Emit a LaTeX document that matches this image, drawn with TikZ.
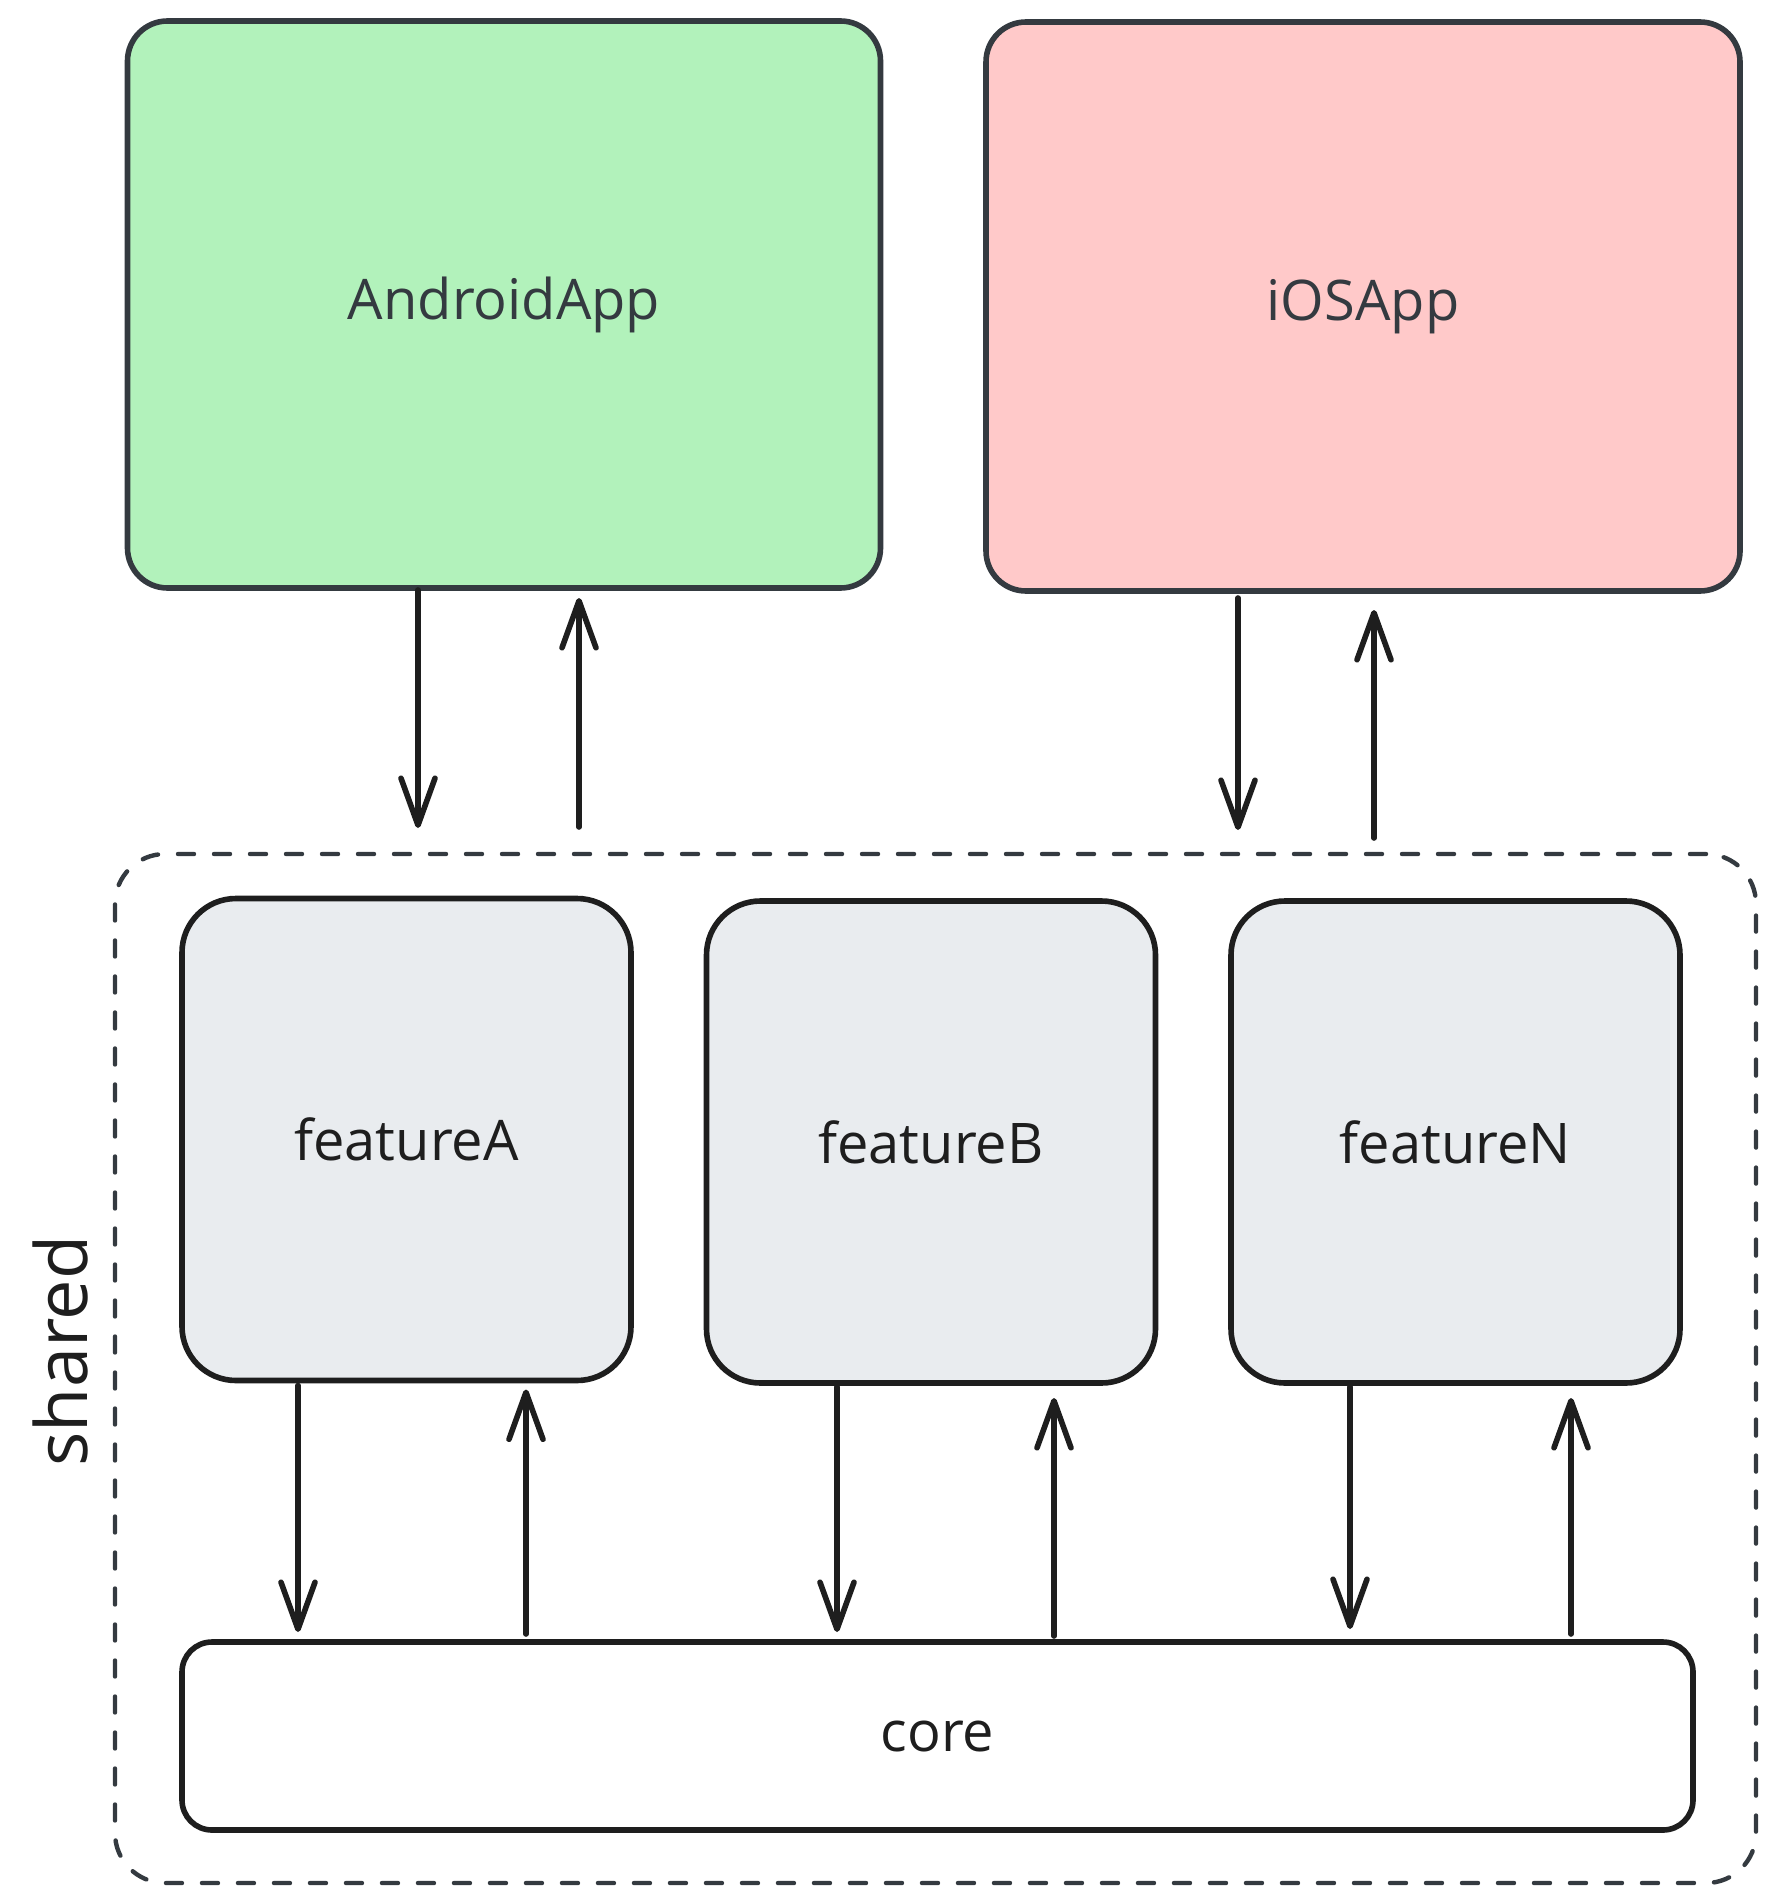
\documentclass[tikz,border=0pt]{standalone}
\usepackage{fontspec}
\setmainfont{Open Sans}
\usetikzlibrary{arrows.meta}
\definecolor{strokeA}{HTML}{343A40}
\definecolor{strokeB}{HTML}{1E1E1E}
\definecolor{greenF}{HTML}{B2F2BB}
\definecolor{pinkF}{HTML}{FFC9C9}
\definecolor{grayF}{HTML}{E9ECEF}
\tikzset{
  appbox/.style={draw=strokeA, line width=2.8pt, rounded corners=20pt, inner sep=0pt, outer sep=0pt,
    text=strokeA, font=\fontsize{28pt}{34pt}\selectfont},
  featbox/.style={draw=strokeB, fill=grayF, line width=2.8pt, rounded corners=27pt, inner sep=0pt, outer sep=0pt,
    minimum width=224.5pt, minimum height=241pt, text=strokeB, font=\fontsize{28pt}{34pt}\selectfont},
  corebox/.style={draw=strokeB, fill=white, line width=2.8pt, rounded corners=15pt, inner sep=0pt, outer sep=0pt,
    text=strokeB, font=\fontsize{28pt}{34pt}\selectfont},
  group/.style={draw=strokeA, dash pattern=on 8pt off 10pt, line cap=round, line width=2.2pt, rounded corners=25pt,
    inner sep=0pt, outer sep=0pt},
  lbl/.style={text=strokeB, font=\fontsize{36pt}{42pt}\selectfont, inner sep=0pt},
  arr/.style={draw=strokeB, line width=2.8pt, line cap=round,
    -{Straight Barb[length=23.5pt,width=17pt,round]}},
}
\begin{document}
\begin{tikzpicture}[x=0.5pt,y=-0.5pt]
\useasboundingbox (0,0) rectangle (1775,1904);
% top apps
\node[appbox, fill=greenF, minimum width=376.5pt, minimum height=283.5pt] (android) at (504,304.5) {AndroidApp};
\node[appbox, fill=pinkF, minimum width=377pt, minimum height=284.5pt] (ios) at (1363,306.5) {iOSApp};
% shared group
\node[group, minimum width=820.5pt, minimum height=514.5pt] (shared) at (935.5,1368.5) {};
\node[lbl, rotate=90] (sharedlbl) at (60,1351) {shared};
% features
\node[featbox] (featA) at (406.5,1139.5) {featureA};
\node[featbox] (featB) at (931,1142) {featureB};
\node[featbox] (featN) at (1455.5,1142) {featureN};
% core
\node[corebox, minimum width=755.5pt, minimum height=94pt] (core) at (937.5,1736) {core};
% x positions of connectors
\coordinate (xa1) at (418,0);
\coordinate (xa2) at (579,0);
\coordinate (xi1) at (1238,0);
\coordinate (xi2) at (1374,0);
\coordinate (xfa1) at (298,0);
\coordinate (xfa2) at (526,0);
\coordinate (xfb1) at (837,0);
\coordinate (xfb2) at (1054,0);
\coordinate (xfn1) at (1350,0);
\coordinate (xfn2) at (1571,0);
% app <-> shared
\draw[arr, shorten <=1pt, shorten >=13pt] (android.south -| xa1) -- (shared.north -| xa1);
\draw[arr, shorten <=13.5pt, shorten >=5pt] (shared.north -| xa2) -- (android.south -| xa2);
\draw[arr, shorten <=3.5pt, shorten >=12pt] (ios.south -| xi1) -- (shared.north -| xi1);
\draw[arr, shorten <=8pt, shorten >=9.5pt] (shared.north -| xi2) -- (ios.south -| xi2);
% features <-> core
\draw[arr, shorten <=2.5pt, shorten >=5pt] (featA.south -| xfa1) -- (core.north -| xfa1);
\draw[arr, shorten <=4pt, shorten >=4.5pt] (core.north -| xfa2) -- (featA.south -| xfa2);
\draw[arr, shorten <=2pt, shorten >=5pt] (featB.south -| xfb1) -- (core.north -| xfb1);
\draw[arr, shorten <=3pt, shorten >=7.5pt] (core.north -| xfb2) -- (featB.south -| xfb2);
\draw[arr, shorten <=2pt, shorten >=6.5pt] (featN.south -| xfn1) -- (core.north -| xfn1);
\draw[arr, shorten <=4pt, shorten >=7.5pt] (core.north -| xfn2) -- (featN.south -| xfn2);
\end{tikzpicture}
\end{document}
